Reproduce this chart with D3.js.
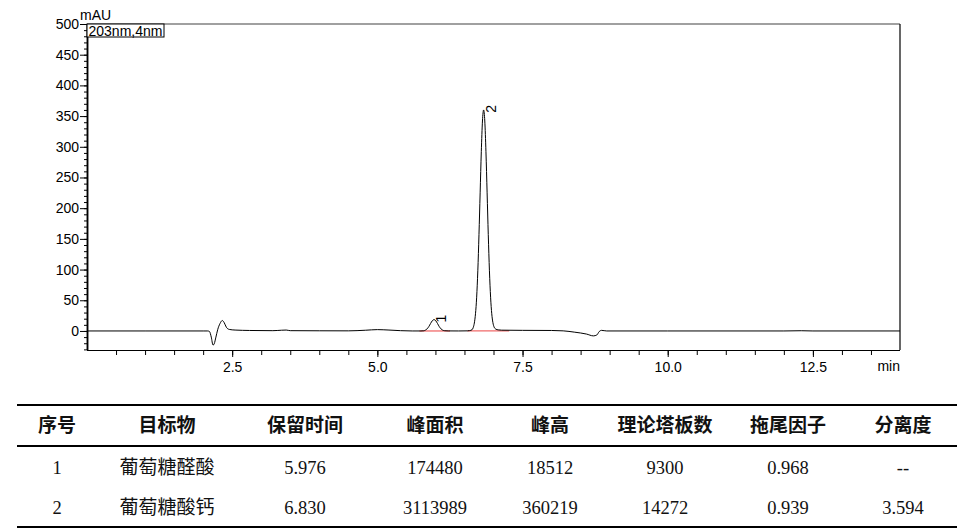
<!DOCTYPE html>
<html>
<head>
<meta charset="utf-8">
<script src="https://cdn.jsdelivr.net/npm/d3@7"></script>
<style>
  html, body { margin: 0; padding: 0; background: #fff; }
  svg { display: block; }
</style>
</head>
<body>
<svg id="chart" width="977" height="532"></svg>
<script>
// ---- chromatogram trace (time in min, signal in mAU) ----
const traceTime = [
  0, 1.0, 2.0, 2.08, 2.11, 2.14, 2.17, 2.19, 2.22, 2.25, 2.29, 2.33, 2.36, 2.40, 2.45, 2.55,
  2.8, 3.2, 3.35, 3.43, 3.5, 4.0, 4.5, 4.8, 5.0, 5.2, 5.4, 5.6, 5.75, 5.80,
  5.826, 5.856, 5.886, 5.916, 5.946, 5.976, 6.006, 6.036, 6.066, 6.096, 6.126, 6.16, 6.22, 6.40, 6.55,
  6.59, 6.63, 6.65, 6.67, 6.69, 6.71, 6.73, 6.75, 6.77, 6.79, 6.81, 6.83, 6.85, 6.87, 6.89, 6.91,
  6.93, 6.95, 6.97, 6.99, 7.01, 7.04, 7.08, 7.14, 7.25, 7.5, 8.0, 8.2, 8.4, 8.6, 8.72, 8.78, 8.82, 8.86,
  8.95, 10.0, 12.0, 12.3, 12.5, 14.0
];
const traceValue = [
  0, 0, 0, 0, -1, -10, -23, -21, -10, 2, 12, 17, 14, 6, 2.5, 1.5,
  0.8, 0.5, 1.2, 1.5, 0.5, 0.3, 0.2, 1.2, 2.2, 1.5, 0.5, 0, 0, 0.3,
  1.3, 3.4, 7.1, 12.1, 16.6, 18.5, 16.6, 12.1, 7.1, 3.4, 1.3, 0.4, 0.1, 0, 0.2,
  0.6, 2.0, 5.3, 12.9, 28, 55, 98, 157, 225, 292, 342, 360, 342, 292, 225, 157,
  98, 55, 28, 13.5, 6.5, 3.0, 1.8, 1.3, 1.2, 1.0, 0.8, 0.2, -2, -5, -8, -6.5, -1, 1,
  0, 0, 0, 0.4, 0, 0
];

// ---- integrated peaks ----
const peakNumbers = ["1", "2"];
const peakTimes = [5.976, 6.830];
const peakHeights = [18.5, 360.2];
const baselineStart = [5.725, 6.55];
const baselineEnd = [6.25, 7.27];

// ---- axes ----
const xMajorTicks = [2.5, 5.0, 7.5, 10.0, 12.5];
const xMinorTicks = d3.range(0.5, 14, 0.5);
const yMajorTicks = d3.range(0, 501, 50);
const yMinorTicks = d3.range(-30, 501, 10);

// ---- table ----
const tableHeaders = ["序号", "目标物", "保留时间", "峰面积", "峰高", "理论塔板数", "拖尾因子", "分离度"];
const rowNo = ["1", "2"];
const rowCompound = ["葡萄糖醛酸", "葡萄糖酸钙"];
const rowRetention = ["5.976", "6.830"];
const rowArea = ["174480", "3113989"];
const rowHeight = ["18512", "360219"];
const rowPlates = ["9300", "14272"];
const rowTailing = ["0.968", "0.939"];
const rowResolution = ["--", "3.594"];

const svg = d3.select("#chart");
svg.append("rect").attr("width", 977).attr("height", 532).attr("fill", "#fff");

const pLeft = 87, pRight = 900, pTop = 24, pBottom = 350;
const x = d3.scaleLinear().domain([0, 14]).range([pLeft, pRight]);
const y = d3.scaleLinear().domain([-31, 500]).range([pBottom, pTop]);

const fontChart = "Arial, 'Liberation Sans', sans-serif";

// red baselines
baselineStart.forEach((s, i) => {
  svg.append("line")
    .attr("x1", x(s)).attr("x2", x(baselineEnd[i]))
    .attr("y1", y(0)).attr("y2", y(0))
    .attr("stroke", "#f06a6a").attr("stroke-width", 1.3);
});

// trace
const pts = traceTime.map((t, i) => [t, traceValue[i]]);
const line = d3.line().x(d => x(d[0])).y(d => y(d[1])).curve(d3.curveMonotoneX);
svg.append("path").datum(pts).attr("d", line)
  .attr("fill", "none").attr("stroke", "#000").attr("stroke-width", 1);

// frame
svg.append("line").attr("x1", pLeft).attr("x2", pRight).attr("y1", pTop).attr("y2", pTop)
  .attr("stroke", "#808080").attr("stroke-width", 1.5);
svg.append("line").attr("x1", pRight).attr("x2", pRight).attr("y1", pTop).attr("y2", pBottom)
  .attr("stroke", "#000").attr("stroke-width", 1.2);

// x axis
const gxMinor = svg.append("g").attr("transform", `translate(0,${pBottom})`)
  .call(d3.axisBottom(x).tickValues(xMinorTicks).tickSize(5).tickFormat(""));
const gx = svg.append("g").attr("transform", `translate(0,${pBottom})`)
  .call(d3.axisBottom(x).tickValues(xMajorTicks).tickSize(7).tickSizeOuter(0).tickPadding(5)
    .tickFormat(d3.format(".1f")));
[gxMinor, gx].forEach(g => {
  g.select(".domain").attr("d", `M${pLeft},0.5H${pRight}`).attr("stroke", "#000").attr("stroke-width", 1.2);
  g.selectAll(".tick line").attr("stroke", "#000");
});
gx.selectAll(".tick text").attr("font-family", fontChart).attr("font-size", 14).attr("fill", "#000");
svg.append("text").attr("x", pRight).attr("y", 371).attr("text-anchor", "end")
  .attr("font-family", fontChart).attr("font-size", 14).text("min");

// y axis
const gyMinor = svg.append("g").attr("transform", `translate(${pLeft},0)`)
  .call(d3.axisLeft(y).tickValues(yMinorTicks).tickSize(3).tickFormat(""));
const gy = svg.append("g").attr("transform", `translate(${pLeft},0)`)
  .call(d3.axisLeft(y).tickValues(yMajorTicks).tickSize(7).tickSizeOuter(0).tickPadding(1));
[gyMinor, gy].forEach(g => {
  g.select(".domain").attr("d", `M0.5,${pTop}V${pBottom}`).attr("stroke", "#000").attr("stroke-width", 1.5);
  g.selectAll(".tick line").attr("stroke", "#000");
});
gy.selectAll(".tick text").attr("font-family", fontChart).attr("font-size", 14).attr("fill", "#000");

svg.append("text").attr("x", 80).attr("y", 20).attr("font-family", fontChart)
  .attr("font-size", 14).text("mAU");
svg.append("rect").attr("x", pLeft).attr("y", pTop).attr("width", 77).attr("height", 13)
  .attr("fill", "#fff").attr("stroke", "#000").attr("stroke-width", 1);
svg.append("text").attr("x", pLeft + 1.5).attr("y", pTop + 11.5).attr("font-family", fontChart)
  .attr("font-size", 14).text("203nm,4nm");

// peak labels
peakNumbers.forEach((n, i) => {
  const px = x(peakTimes[i]) + 12, py = y(peakHeights[i]) + 3;
  svg.append("text").attr("transform", `translate(${px},${py}) rotate(-90)`)
    .attr("font-family", fontChart).attr("font-size", 14).text(n);
});

// ---- table ----
const colX = [57, 167, 305, 435, 550, 665, 788, 903];
const tLeft = 17, tRight = 957;
[405, 446, 527].forEach(yy => {
  svg.append("line").attr("x1", tLeft).attr("x2", tRight).attr("y1", yy).attr("y2", yy)
    .attr("stroke", "#000").attr("stroke-width", 2);
});
tableHeaders.forEach((h, i) => {
  svg.append("text").attr("x", colX[i]).attr("y", 432).attr("text-anchor", "middle")
    .attr("font-family", "'Noto Sans CJK SC'").attr("font-weight", "bold")
    .attr("font-size", 19).attr("fill", "#111").text(h);
});
const rows = rowNo.map((n, i) => [n, rowCompound[i], rowRetention[i], rowArea[i], rowHeight[i],
  rowPlates[i], rowTailing[i], rowResolution[i]]);
const rowY = [474, 514];
rows.forEach((r, ri) => {
  r.forEach((v, ci) => {
    svg.append("text").attr("x", colX[ci]).attr("y", rowY[ri]).attr("text-anchor", "middle")
      .attr("font-family", ci === 1 ? "'Noto Sans CJK SC'" : "'Liberation Serif', serif")
      .attr("font-size", ci === 1 ? 19 : 18.5).attr("fill", "#111").text(v);
  });
});
</script>
</body>
</html>
